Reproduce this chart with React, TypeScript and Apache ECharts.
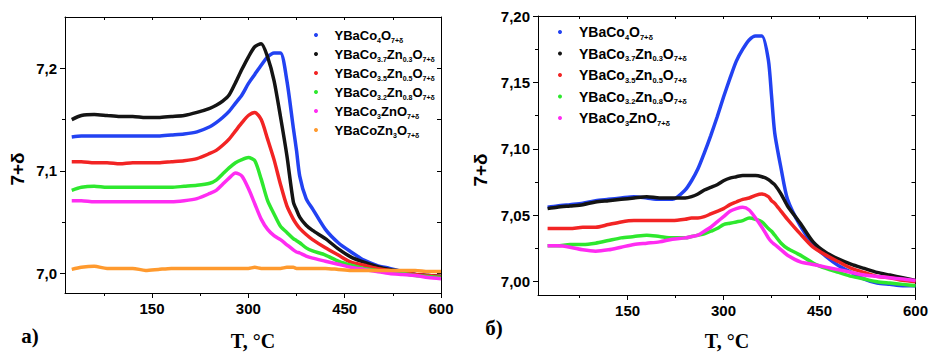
import React, { useEffect, useRef } from 'react';
import * as echarts from 'echarts';

// Temperature grid (°C) used for both panels
const T_A = [25, 40, 60, 80, 100, 120, 140, 160, 180, 200, 220, 240, 250, 260, 270, 280, 290, 300, 310, 320, 330, 340, 350, 360, 370, 375, 380, 390, 400, 420, 440, 460, 480, 500, 520, 540, 560, 580, 600];
const T_B = [25, 40, 60, 80, 100, 120, 140, 160, 180, 200, 220, 240, 250, 260, 270, 280, 290, 300, 310, 320, 330, 340, 350, 360, 370, 375, 380, 390, 400, 420, 440, 460, 480, 500, 520, 540, 560, 580, 600];

// Panel a) values of 7+δ
const A_CO4 = [7.133, 7.134, 7.134, 7.134, 7.134, 7.134, 7.134, 7.134, 7.135, 7.136, 7.138, 7.143, 7.147, 7.152, 7.158, 7.166, 7.174, 7.185, 7.194, 7.203, 7.211, 7.215, 7.215, 7.188, 7.142, 7.120, 7.095, 7.073, 7.063, 7.043, 7.030, 7.021, 7.013, 7.008, 7.005, 7.002, 6.999, 6.998, 6.997];
const A_ZN03 = [7.150, 7.154, 7.155, 7.154, 7.153, 7.153, 7.152, 7.152, 7.153, 7.154, 7.157, 7.161, 7.164, 7.168, 7.174, 7.186, 7.199, 7.211, 7.221, 7.224, 7.211, 7.188, 7.153, 7.115, 7.070, 7.062, 7.055, 7.047, 7.042, 7.034, 7.024, 7.016, 7.011, 7.007, 7.004, 7.002, 6.999, 6.998, 6.997];
const A_ZN05 = [7.109, 7.109, 7.108, 7.108, 7.107, 7.108, 7.108, 7.108, 7.109, 7.110, 7.112, 7.117, 7.120, 7.125, 7.131, 7.139, 7.147, 7.154, 7.157, 7.150, 7.131, 7.111, 7.087, 7.066, 7.053, 7.048, 7.044, 7.038, 7.033, 7.025, 7.018, 7.011, 7.008, 7.005, 7.003, 7.001, 6.999, 6.998, 6.997];
const A_ZN08 = [7.081, 7.084, 7.085, 7.084, 7.084, 7.084, 7.084, 7.084, 7.084, 7.085, 7.086, 7.088, 7.091, 7.097, 7.103, 7.108, 7.111, 7.113, 7.110, 7.092, 7.071, 7.058, 7.046, 7.040, 7.034, 7.032, 7.030, 7.025, 7.022, 7.018, 7.012, 7.008, 7.005, 7.003, 7.001, 7.000, 6.998, 6.997, 6.996];
const A_ZN1 = [7.071, 7.071, 7.070, 7.070, 7.070, 7.070, 7.070, 7.070, 7.070, 7.071, 7.073, 7.078, 7.081, 7.087, 7.093, 7.098, 7.095, 7.083, 7.068, 7.053, 7.043, 7.037, 7.033, 7.028, 7.023, 7.021, 7.020, 7.017, 7.015, 7.012, 7.009, 7.006, 7.004, 7.002, 7.000, 6.999, 6.998, 6.996, 6.995];
const A_ZN3 = [7.004, 7.006, 7.007, 7.005, 7.005, 7.005, 7.003, 7.004, 7.005, 7.005, 7.005, 7.005, 7.005, 7.005, 7.005, 7.005, 7.005, 7.005, 7.006, 7.005, 7.005, 7.005, 7.005, 7.006, 7.006, 7.005, 7.005, 7.005, 7.005, 7.005, 7.004, 7.003, 7.003, 7.003, 7.003, 7.003, 7.003, 7.002, 7.002];

// Panel б) values of 7+δ
const B_CO4 = [7.056, 7.057, 7.058, 7.059, 7.061, 7.062, 7.063, 7.064, 7.063, 7.062, 7.062, 7.069, 7.076, 7.085, 7.097, 7.110, 7.124, 7.139, 7.153, 7.166, 7.175, 7.182, 7.185, 7.185, 7.167, 7.140, 7.112, 7.085, 7.062, 7.042, 7.028, 7.019, 7.012, 7.007, 7.002, 6.999, 6.998, 6.997, 6.997];
const B_ZN03 = [7.055, 7.056, 7.057, 7.058, 7.060, 7.061, 7.062, 7.063, 7.064, 7.063, 7.063, 7.063, 7.064, 7.066, 7.069, 7.071, 7.073, 7.076, 7.078, 7.079, 7.080, 7.080, 7.080, 7.079, 7.077, 7.075, 7.073, 7.066, 7.057, 7.044, 7.030, 7.022, 7.017, 7.013, 7.010, 7.007, 7.005, 7.003, 7.001];
const B_ZN05 = [7.040, 7.040, 7.040, 7.041, 7.041, 7.043, 7.045, 7.046, 7.046, 7.046, 7.046, 7.047, 7.048, 7.048, 7.049, 7.051, 7.053, 7.055, 7.058, 7.060, 7.062, 7.063, 7.065, 7.066, 7.064, 7.061, 7.059, 7.053, 7.047, 7.036, 7.026, 7.020, 7.015, 7.010, 7.007, 7.004, 7.003, 7.001, 7.000];
const B_ZN08 = [7.027, 7.027, 7.028, 7.028, 7.029, 7.031, 7.033, 7.034, 7.035, 7.034, 7.033, 7.033, 7.034, 7.035, 7.036, 7.038, 7.040, 7.043, 7.044, 7.045, 7.046, 7.048, 7.047, 7.045, 7.040, 7.038, 7.035, 7.029, 7.025, 7.020, 7.014, 7.010, 7.007, 7.004, 7.002, 7.000, 6.999, 6.998, 6.997];
const B_ZN1 = [7.027, 7.027, 7.026, 7.024, 7.023, 7.024, 7.026, 7.028, 7.029, 7.030, 7.032, 7.033, 7.034, 7.035, 7.038, 7.041, 7.045, 7.049, 7.053, 7.055, 7.056, 7.054, 7.048, 7.041, 7.033, 7.030, 7.028, 7.024, 7.020, 7.015, 7.013, 7.011, 7.009, 7.007, 7.005, 7.004, 7.003, 7.002, 7.001];

// Tick values
const X_LABELS = [150, 300, 450, 600];
const X_MINOR = [75, 225, 375, 525];
const X_TOP = [75, 150, 225, 300, 375, 450, 525];
const YA_LABELS = [7.0, 7.1, 7.2];
const YA_MINOR = [7.05, 7.15];
const YA_RIGHT = [7.0, 7.05, 7.1, 7.15, 7.2];
const YB_LABELS = [7.0, 7.05, 7.1, 7.15, 7.2];
const YB_MINOR = [7.025, 7.075, 7.125, 7.175];
const YB_RIGHT = [7.0, 7.025, 7.05, 7.075, 7.1, 7.125, 7.15, 7.175];

// Compound formulas: [text, isSubscript]
const F_CO4: [string, boolean][] = [['YBaCo', false], ['4', true], ['O', false], ['7+δ', true]];
const F_ZN03: [string, boolean][] = [['YBaCo', false], ['3.7', true], ['Zn', false], ['0.3', true], ['O', false], ['7+δ', true]];
const F_ZN05: [string, boolean][] = [['YBaCo', false], ['3.5', true], ['Zn', false], ['0.5', true], ['O', false], ['7+δ', true]];
const F_ZN08: [string, boolean][] = [['YBaCo', false], ['3.2', true], ['Zn', false], ['0.8', true], ['O', false], ['7+δ', true]];
const F_ZN1: [string, boolean][] = [['YBaCo', false], ['3', true], ['ZnO', false], ['7+δ', true]];
const F_ZN3: [string, boolean][] = [['YBaCoZn', false], ['3', true], ['O', false], ['7+δ', true]];

const SANS = 'Arial, "Liberation Sans", sans-serif';
const SERIF = '"Times New Roman", "Liberation Serif", serif';

const COLORS = {
  blue: '#2242f2',
  black: '#141414',
  red: '#f22424',
  green: '#2ee82e',
  magenta: '#ff2cf2',
  orange: '#ff9a2e',
};

const plain = (f: [string, boolean][]) => f.map((p) => p[0]).join('');
const rich = (f: [string, boolean][]) => f.map((p) => `{${p[1] ? 's' : 'm'}|${p[0]}}`).join('');

export default function App() {
  const ref = useRef<HTMLDivElement>(null);

  useEffect(() => {
    document.body.style.margin = '0';
    if (!ref.current) return;
    const chart = echarts.init(ref.current, undefined, { renderer: 'svg' });

    const seriesA = [
      { f: F_CO4, d: A_CO4, c: COLORS.blue },
      { f: F_ZN03, d: A_ZN03, c: COLORS.black },
      { f: F_ZN05, d: A_ZN05, c: COLORS.red },
      { f: F_ZN08, d: A_ZN08, c: COLORS.green },
      { f: F_ZN1, d: A_ZN1, c: COLORS.magenta },
      { f: F_ZN3, d: A_ZN3, c: COLORS.orange },
    ];
    const seriesB = [
      { f: F_CO4, d: B_CO4, c: COLORS.blue },
      { f: F_ZN03, d: B_ZN03, c: COLORS.black },
      { f: F_ZN05, d: B_ZN05, c: COLORS.red },
      { f: F_ZN08, d: B_ZN08, c: COLORS.green },
      { f: F_ZN1, d: B_ZN1, c: COLORS.magenta },
    ];

    const labelMap: Record<string, string> = {};
    const namesA: string[] = [];
    const namesB: string[] = [];
    const series: any[] = [];
    seriesA.forEach((s) => {
      const name = plain(s.f) + ' (a)';
      labelMap[name] = rich(s.f);
      namesA.push(name);
      series.push({
        name, type: 'line', xAxisIndex: 0, yAxisIndex: 0, showSymbol: false, smooth: 0.25,
        color: s.c, itemStyle: { color: s.c }, lineStyle: { color: s.c, width: 3.5 },
        data: T_A.map((t, i) => [t, s.d[i]]),
      });
    });
    seriesB.forEach((s) => {
      const name = plain(s.f) + ' (б)';
      labelMap[name] = rich(s.f);
      namesB.push(name);
      series.push({
        name, type: 'line', xAxisIndex: 3, yAxisIndex: 3, showSymbol: false, smooth: 0.25,
        color: s.c, itemStyle: { color: s.c }, lineStyle: { color: s.c, width: 3.5 },
        data: T_B.map((t, i) => [t, s.d[i]]),
      });
    });

    const richStyles = (main: number, sub: number) => ({
      m: { fontFamily: SANS, fontSize: main, fontWeight: 'bold', color: '#000', lineHeight: 18 },
      s: { fontFamily: SANS, fontSize: sub, fontWeight: 'bold', color: '#000', lineHeight: 10, verticalAlign: 'bottom' },
    });

    const axisLine = { show: true, onZero: false, lineStyle: { color: '#000', width: 1 } };
    const tickStyle = { color: '#000', width: 1 };
    const labelStyle = { fontFamily: SANS, fontSize: 15, fontWeight: 'bold', color: '#000' };

    const xAxes = (grid: number, min: number) => [
      {
        type: 'value', gridIndex: grid, min, max: 600, position: 'bottom', axisLine,
        axisTick: { show: true, inside: false, length: 5, customValues: X_LABELS, lineStyle: tickStyle },
        axisLabel: { ...labelStyle, customValues: X_LABELS, margin: 8 },
        splitLine: { show: false },
      },
      {
        type: 'value', gridIndex: grid, min, max: 600, position: 'bottom', axisLine: { show: false },
        axisTick: { show: true, inside: false, length: 3, customValues: X_MINOR, lineStyle: tickStyle },
        axisLabel: { show: false }, splitLine: { show: false },
      },
      {
        type: 'value', gridIndex: grid, min, max: 600, position: 'top', axisLine,
        axisTick: { show: true, inside: true, length: 3, customValues: X_TOP, lineStyle: tickStyle },
        axisLabel: { show: false }, splitLine: { show: false },
      },
    ];

    const yAxes = (grid: number, min: number, max: number, labels: number[], minor: number[], right: number[], digits: number) => [
      {
        type: 'value', gridIndex: grid, min, max, position: 'left', axisLine,
        axisTick: { show: true, inside: false, length: 5, customValues: labels, lineStyle: tickStyle },
        axisLabel: {
          ...labelStyle, customValues: labels, margin: 8,
          formatter: (v: number) => v.toFixed(digits).replace('.', ','),
        },
        splitLine: { show: false },
      },
      {
        type: 'value', gridIndex: grid, min, max, position: 'left', axisLine: { show: false },
        axisTick: { show: true, inside: false, length: 3, customValues: minor, lineStyle: tickStyle },
        axisLabel: { show: false }, splitLine: { show: false },
      },
      {
        type: 'value', gridIndex: grid, min, max, position: 'right', axisLine,
        axisTick: { show: true, inside: true, length: 4, customValues: right, lineStyle: tickStyle },
        axisLabel: { show: false }, splitLine: { show: false },
      },
    ];

    const legendBase = {
      orient: 'vertical', icon: 'circle', itemHeight: 4,
      formatter: (n: string) => labelMap[n] || n,
      selectedMode: false,
    };

    const txt = (text: string, x: number, y: number, family: string, size: number, rotation = 0) => ({
      type: 'text', x, y, rotation, silent: true,
      style: {
        text, fontFamily: family, fontSize: size, fontWeight: 'bold', fill: '#000',
        textAlign: 'center', textVerticalAlign: 'middle',
      },
    });

    chart.setOption({
      animation: false,
      backgroundColor: '#fff',
      grid: [
        { left: 65, top: 17, width: 376, height: 276 },
        { left: 538, top: 16, width: 379, height: 279 },
      ],
      xAxis: [...xAxes(0, 14.5), ...xAxes(1, 10)],
      yAxis: [
        ...yAxes(0, 6.981, 7.25, YA_LABELS, YA_MINOR, YA_RIGHT, 1),
        ...yAxes(1, 6.99, 7.2, YB_LABELS, YB_MINOR, YB_RIGHT, 2),
      ],
      legend: [
        {
          ...legendBase, data: namesA, left: 309, top: 21, itemGap: 1, itemWidth: 27,
          textStyle: { rich: richStyles(13, 7), lineHeight: 18 },
        },
        {
          ...legendBase, data: namesB, left: 553, top: 18, itemGap: 3.5, itemWidth: 28,
          textStyle: { rich: richStyles(14, 7.5), lineHeight: 18 },
        },
      ],
      graphic: [
        txt('a)', 30, 336, SERIF, 21),
        txt('б)', 494, 328, SERIF, 21),
        txt('T, °C', 253, 341, SERIF, 20),
        txt('T, °C', 727, 341, SERIF, 20),
        txt('7+δ', 17, 169, SANS, 19, Math.PI / 2),
        txt('7+δ', 480, 170, SANS, 19, Math.PI / 2),
      ],
      series,
    });

    return () => chart.dispose();
  }, []);

  return <div ref={ref} style={{ width: 931, height: 352 }} />;
}
